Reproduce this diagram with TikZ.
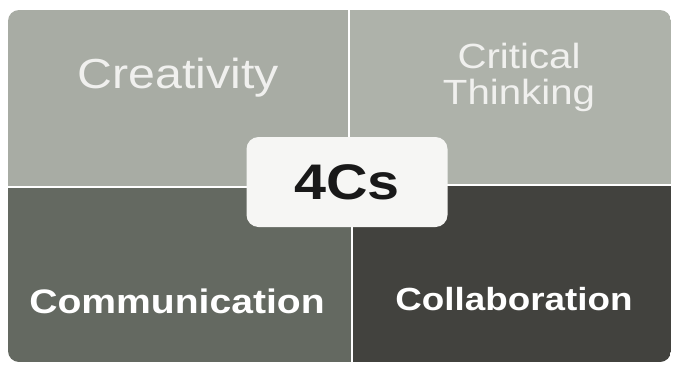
\documentclass[tikz,border=0pt]{standalone}
\usepackage{fontspec}
\setmainfont{Liberation Sans}
\newfontfamily\quadfont[FakeStretch=1.15]{Liberation Sans}
\usetikzlibrary{calc}

\definecolor{greyTL}{RGB}{168,172,164}
\definecolor{greyTR}{RGB}{174,178,170}
\definecolor{greyBL}{RGB}{100,105,97}
\definecolor{greyBR}{RGB}{66,66,62}
\definecolor{boxwhite}{RGB}{246,246,244}
\definecolor{toptext}{RGB}{240,240,238}

\begin{document}
\begin{tikzpicture}[x=1pt,y=-1pt,
		toplbl/.style={text=toptext,inner sep=0pt},
		botlbl/.style={text=white,inner sep=0pt,anchor=base}]
		
		\useasboundingbox (0,0) rectangle (678,367);
		\fill[white] (0,0) rectangle (678,367);
		
		% the four quadrants, cut to one rounded frame
		\begin{scope}
			\clip[rounded corners=11pt] (8,10) rectangle (671,362);
			\foreach \xa/\ya/\xb/\yb/\col in {8/10/348/186/greyTL, 350/10/671/184/greyTR, 8/188/351/362/greyBL, 353/186/671/362/greyBR} {
				\fill[\col] (\xa,\ya) rectangle (\xb,\yb);
			}
		\end{scope}
		
		\node (crea) at (178,88) [toplbl,anchor=base,font={\quadfont\fontsize{42}{44}\selectfont}] {Creativity};
		\node (crit) at (519,77) [toplbl,align=center,font={\quadfont\fontsize{35}{36}\selectfont}] {Critical\\Thinking};
		\node (comm) at (177,313) [botlbl,font={\quadfont\bfseries\fontsize{34}{40}\selectfont}] {Communication};
		\node (coll) at (514,310) [botlbl,font={\quadfont\bfseries\fontsize{32}{40}\selectfont}] {Collaboration};
		
		\node (four) at (347,182) [minimum width=201pt,minimum height=90pt,rounded corners=12pt,fill=boxwhite,text=black!90,font={\quadfont\bfseries\fontsize{50}{60}\selectfont}] {4Cs};
		
	\end{tikzpicture}
\end{document}
